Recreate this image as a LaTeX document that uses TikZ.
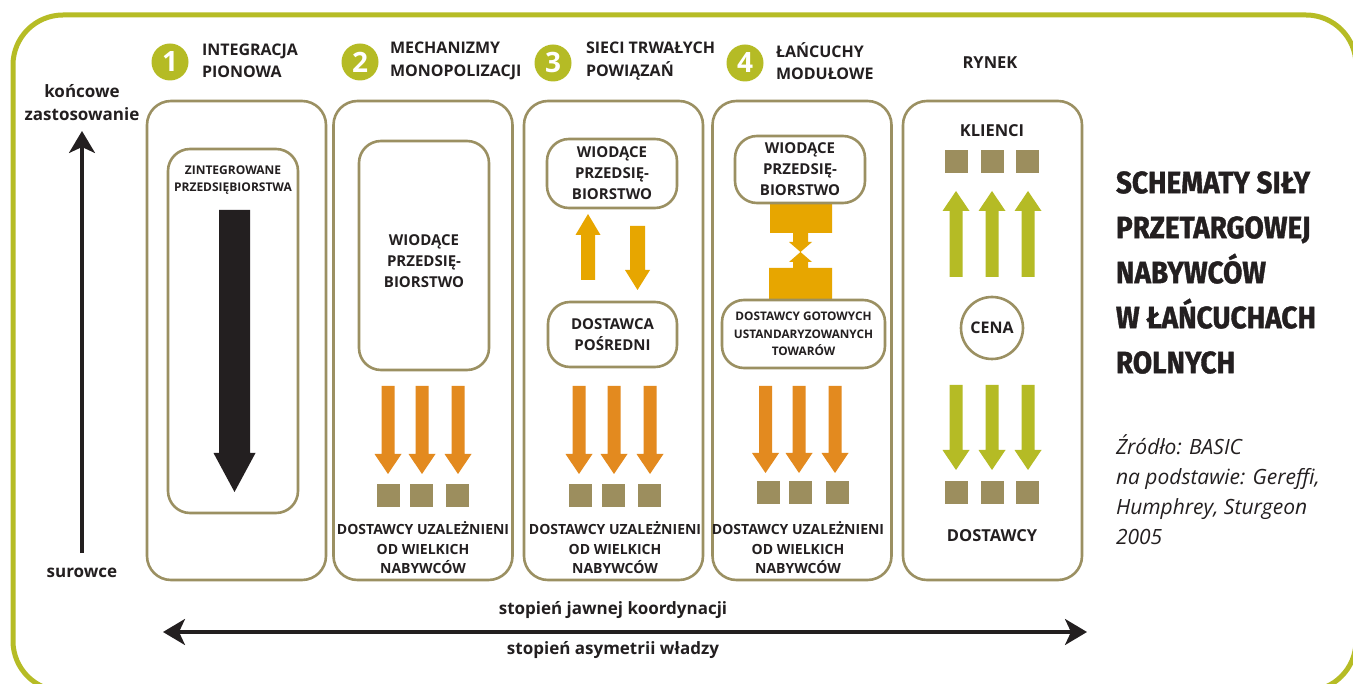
\documentclass[tikz,border=0pt]{standalone}
\usepackage{fontspec}
\setmainfont{Open Sans}
\newfontfamily\titlefont[FakeStretch=0.9,FakeBold=1.2]{Fira Sans}
\usetikzlibrary{arrows.meta}
\definecolor{frameG}{HTML}{B6BC25}
\definecolor{boxO}{HTML}{9B9062}
\definecolor{sqO}{HTML}{9C8E5E}
\definecolor{orA}{HTML}{E38A1F}
\definecolor{goA}{HTML}{E7A600}
\definecolor{grA}{HTML}{B5BB25}
\definecolor{txt}{HTML}{231F20}
% block arrow: style, x, y tail, y head base, y tip, shaft width, head width
\newcommand{\BlkArrow}[7]{\fill[#1] ({#2-#6/2},#3) -- ({#2+#6/2},#3) -- ({#2+#6/2},#4) -- ({#2+#7/2},#4) -- (#2,#5) -- ({#2-#7/2},#4) -- ({#2-#6/2},#4) -- cycle;}
\begin{document}
\begin{tikzpicture}[x=1pt,y=-1pt,
 every node/.style={text=txt, inner sep=0pt, outer sep=0pt},
 colbox/.style={draw=boxO, line width=2.6pt, rounded corners=24pt, minimum width=179pt, minimum height=479pt},
 inbox/.style={draw=boxO, line width=2.6pt, rounded corners=22pt, fill=white, align=center, font=\bfseries\fontsize{15}{21}\selectfont},
 sq/.style={fill=sqO, minimum size=23pt},
 numc/.style={circle, fill=grA, minimum size=37pt, text=white, font=\bfseries\fontsize{28}{28}\selectfont},
 hdr/.style={anchor=west, align=left, font=\bfseries\fontsize{16}{22.5}\selectfont},
 lbl/.style={align=center, font=\bfseries\fontsize{14}{19.5}\selectfont},
 axl/.style={align=center, font=\bfseries\fontsize{17}{22}\selectfont},
 mk/.style={font=\bfseries\fontsize{16.5}{20}\selectfont},
 axarrow/.style={line width=3.2pt, draw=txt},
 >={Stealth[length=22pt,width=26pt,inset=6pt]}
]
\useasboundingbox (0,0) rectangle (1353,684);
\fill[white] (0,0) rectangle (1353,684);
% outer frame
\draw[frameG, line width=5pt, rounded corners=50pt] (13,15) rectangle (1356,691);

% columns
\node[colbox] (c1) at (236.5,340.5) {};
\node[colbox] (c2) at (423,340.5) {};
\node[colbox] (c3) at (613.5,340.5) {};
\node[colbox] (c4) at (802,340.5) {};
\node[colbox] (c5) at (992.5,340.5) {};

% headers
\node[numc] (n1) at (170,62) {1};
\node[numc] (n2) at (360,62) {2};
\node[numc] (n3) at (553,63) {3};
\node[numc] (n4) at (745,63) {4};
\node[hdr] (h1) at (202,61) {INTEGRACJA\\PIONOWA};
\node[hdr] (h2) at (390,61) {MECHANIZMY\\MONOPOLIZACJI};
\node[hdr] (h3) at (586,61) {SIECI TRWAŁYCH\\POWIĄZAŃ};
\node[hdr] (h4) at (776,61) {ŁAŃCUCHY\\MODUŁOWE};
\node[mk] (h5) at (990,63) {RYNEK};

% column 1
\node[inbox, minimum width=130pt, minimum height=364pt] (b1) at (233,331) {};
\node[lbl, font=\bfseries\fontsize{12}{16.5}\selectfont] (b1t) at (233,180) {ZINTEGROWANE\\PRZEDSIĘBIORSTWA};
\BlkArrow{txt}{234.5}{210}{453}{492}{31}{42}

% column 2
\node[inbox, minimum width=130pt, minimum height=229pt] (b2) at (424,255.5) {};
\node[lbl, font=\bfseries\fontsize{15}{21}\selectfont] (b2t) at (424,261) {WIODĄCE\\PRZEDSIĘ-\\BIORSTWO};
\BlkArrow{orA}{388}{386}{454}{474}{13}{27}
\BlkArrow{orA}{422}{386}{454}{474}{13}{27}
\BlkArrow{orA}{458}{386}{454}{474}{13}{27}
\node[sq] (s21) at (388,495.5) {};
\node[sq] (s22) at (421,495.5) {};
\node[sq] (s23) at (457.5,495.5) {};
\node[lbl] (d2) at (423,548) {DOSTAWCY UZALEŻNIENI\\OD WIELKICH\\NABYWCÓW};

% column 3
\node[inbox, minimum width=130pt, minimum height=69pt] (b3a) at (612,173.5) {WIODĄCE\\PRZEDSIĘ-\\BIORSTWO};
\node[inbox, minimum width=129pt, minimum height=65pt] (b3b) at (612.5,334.5) {DOSTAWCA\\POŚREDNI};
\BlkArrow{goA}{588}{280}{235}{214}{14}{25}
\BlkArrow{goA}{637.5}{226}{270}{290}{15}{25}
\BlkArrow{orA}{579}{386}{454}{474}{13}{27}
\BlkArrow{orA}{614}{386}{454}{474}{13}{27}
\BlkArrow{orA}{650}{386}{454}{474}{13}{27}
\node[sq] (s31) at (580,495.5) {};
\node[sq] (s32) at (613.5,495.5) {};
\node[sq] (s33) at (649.5,495.5) {};
\node[lbl] (d3) at (615,548) {DOSTAWCY UZALEŻNIENI\\OD WIELKICH\\NABYWCÓW};

% column 4
\fill[goA] (770,203) -- (832,203) -- (832,233) -- (808,233) -- (808,242) -- (812,242) -- (800.5,252) -- (789,242) -- (793,242) -- (793,233) -- (770,233) -- cycle;
\fill[goA] (769,299) -- (832,299) -- (832,268) -- (808,268) -- (808,262) -- (812,262) -- (800.5,252) -- (789,262) -- (793,262) -- (793,268) -- (769,268) -- cycle;
\node[inbox, minimum width=130pt, minimum height=67pt] (b4a) at (800,169.5) {WIODĄCE\\PRZEDSIĘ-\\BIORSTWO};
\node[inbox, minimum width=163pt, minimum height=68pt, font=\bfseries\fontsize{11.8}{17.5}\selectfont] (b4b) at (803.5,334) {DOSTAWCY GOTOWYCH\\USTANDARYZOWANYCH\\TOWARÓW};
\BlkArrow{orA}{765.5}{386}{453}{473}{13}{27}
\BlkArrow{orA}{799}{386}{453}{473}{13}{27}
\BlkArrow{orA}{835}{386}{453}{473}{13}{27}
\node[sq] (s41) at (768,493) {};
\node[sq] (s42) at (800.5,493) {};
\node[sq] (s43) at (837.5,493) {};
\node[lbl] (d4) at (798,548) {DOSTAWCY UZALEŻNIENI\\OD WIELKICH\\NABYWCÓW};

% column 5
\node[mk] (kl) at (992,131) {KLIENCI};
\node[sq] (s51) at (956.5,162) {};
\node[sq] (s52) at (992.5,162) {};
\node[sq] (s53) at (1027.5,162) {};
\BlkArrow{grA}{956}{277}{211}{191}{13}{27}
\BlkArrow{grA}{992}{277}{211}{191}{13}{27}
\BlkArrow{grA}{1028}{277}{211}{191}{13}{27}
\node[circle, draw=boxO, line width=2.6pt, minimum size=62pt, fill=white, font=\bfseries\fontsize{16}{16}\selectfont] (cena) at (992,328) {CENA};
\BlkArrow{grA}{956}{385}{450}{470}{13}{27}
\BlkArrow{grA}{992}{385}{450}{470}{13}{27}
\BlkArrow{grA}{1028}{385}{450}{470}{13}{27}
\node[sq] (s54) at (956.5,492.5) {};
\node[sq] (s55) at (992.5,492.5) {};
\node[sq] (s56) at (1027.5,492.5) {};
\node[mk] (dost) at (992,536) {DOSTAWCY};

% vertical axis
\coordinate (vb) at (82,553);
\coordinate (vt) at (82,131);
\draw[axarrow, ->] (vb) -- (vt);
\node[axl] (k1) at (82,91) {końcowe};
\node[axl] (k2) at (82,114) {zastosowanie};
\node[axl] (sur) at (82,573) {surowce};

% horizontal axis
\coordinate (hl) at (163,632);
\coordinate (hr) at (1087,632);
\draw[axarrow, <->] (hl) -- (hr);
\node[axl] (st1) at (613,610) {stopień jawnej koordynacji};
\node[axl] (st2) at (613,650) {stopień asymetrii władzy};

% title and source
\node[anchor=west, align=left, font=\titlefont\bfseries\fontsize{31}{45}\selectfont] (title) at (1116,272.5) {SCHEMATY SIŁY\\PRZETARGOWEJ\\NABYWCÓW\\W ŁAŃCUCHACH\\ROLNYCH};
\node[anchor=west, align=left, font=\itshape\fontsize{21}{30}\selectfont] (src) at (1116,490) {Źródło: BASIC\\na podstawie: Gereffi,\\Humphrey, Sturgeon\\2005};
\end{tikzpicture}
\end{document}
